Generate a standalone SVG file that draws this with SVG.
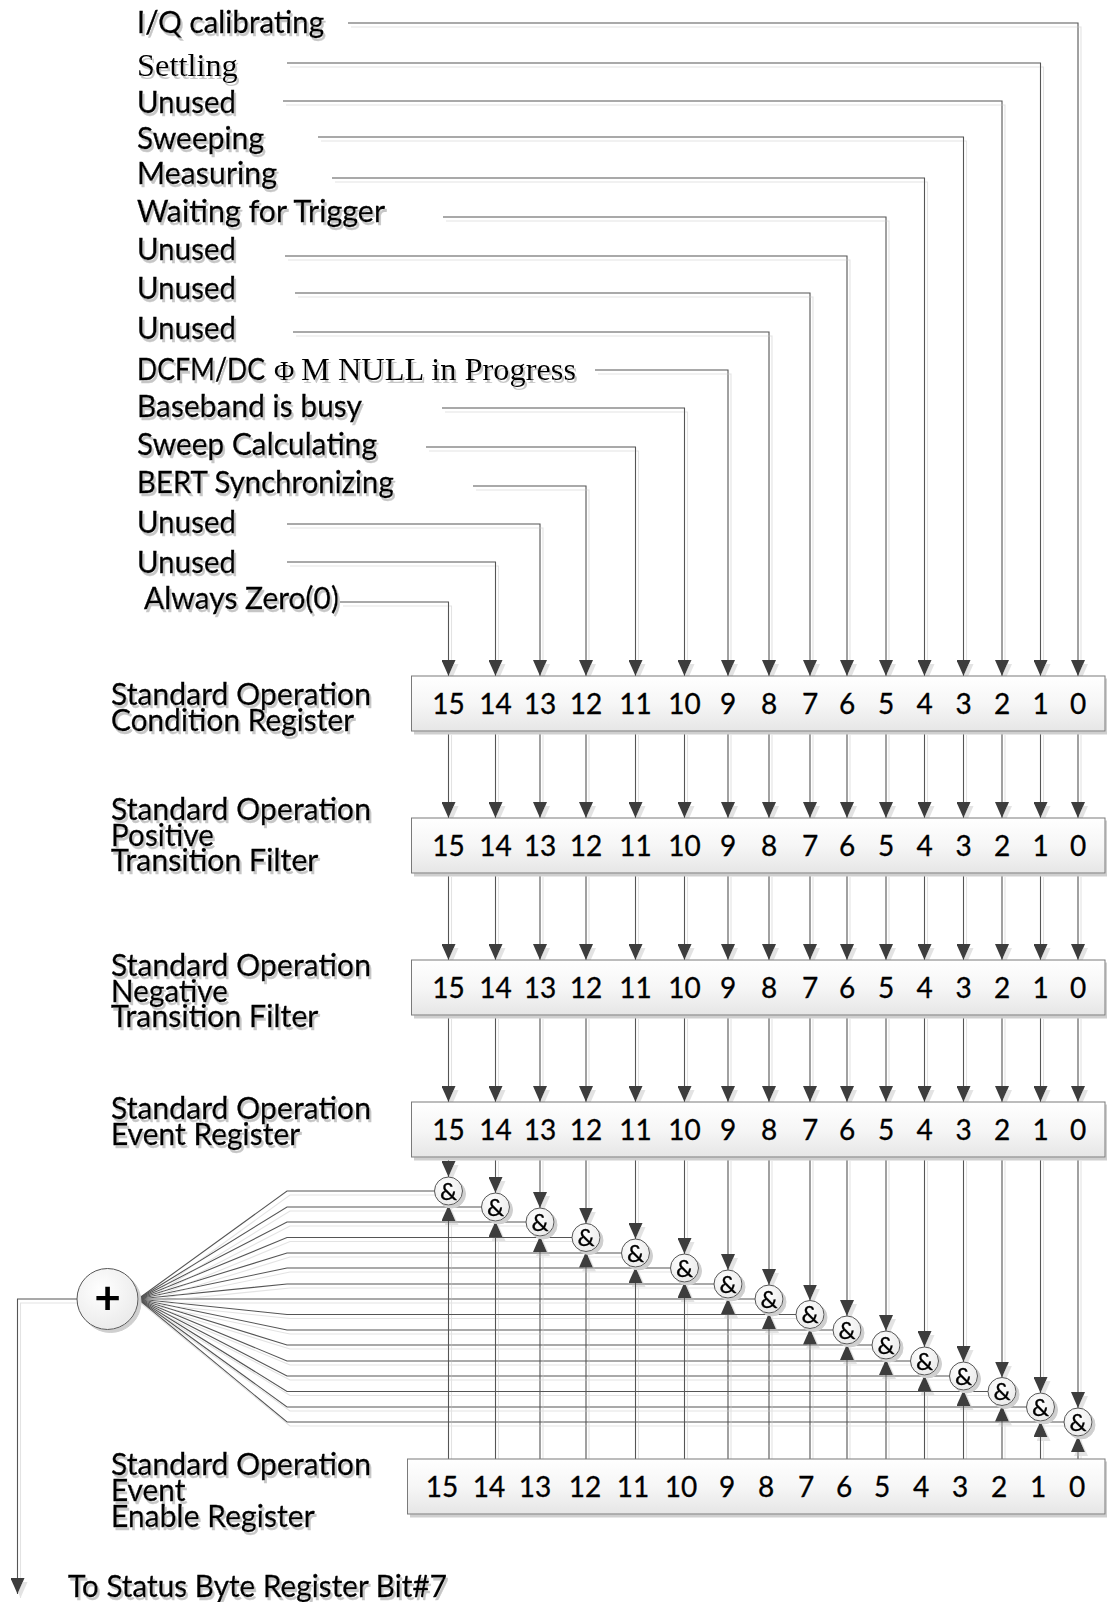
<svg xmlns="http://www.w3.org/2000/svg" width="1107" height="1602" viewBox="0 0 1107 1602">
  <defs>
    <style>
      .lb { font-family: Lato, "Liberation Sans", sans-serif; font-size: 30px; fill: #000; stroke: #000; stroke-width: 0.35px; }
      .sf { font-family: "Liberation Serif", serif; font-size: 32.4px; fill: #000; }
      .dg { font-family: Lato, "Liberation Sans", sans-serif; font-size: 28px; fill: #000; stroke: #000; stroke-width: 0.3px; text-anchor: middle; }
      .amp { font-family: Lato, "Liberation Sans", sans-serif; font-size: 24px; fill: #000; stroke: #000; stroke-width: 0.3px; text-anchor: middle; }
      .plus { font-family: Lato, "Liberation Sans", sans-serif; font-size: 46px; font-weight: 700; fill: #000; text-anchor: middle; }
      .c { fill: none; stroke: #555; stroke-width: 1.1; }
      .box { fill: url(#boxg); stroke: #7a7a7a; stroke-width: 1; }
      .gc { fill: url(#cg); stroke: #555; stroke-width: 1; }
      .txt { filter: url(#tsh); }
    </style>
    <linearGradient id="boxg" x1="0" y1="0" x2="0" y2="1">
      <stop offset="0" stop-color="#ffffff"/>
      <stop offset="0.5" stop-color="#f6f6f6"/>
      <stop offset="1" stop-color="#e6e6e6"/>
    </linearGradient>
    <radialGradient id="cg" cx="0.4" cy="0.35" r="0.75">
      <stop offset="0" stop-color="#ffffff"/>
      <stop offset="1" stop-color="#e8e8e8"/>
    </radialGradient>
    <marker id="ah" markerWidth="16" markerHeight="14" refX="16" refY="7" orient="auto" markerUnits="userSpaceOnUse">
      <path d="M0,0L16,7L0,14Z" fill="#3c3c3c"/>
    </marker>
    <!-- soft drop shadows -->
    <filter id="lsh" filterUnits="userSpaceOnUse" x="0" y="0" width="1107" height="1602">
      <feOffset in="SourceAlpha" dx="3" dy="4" result="o"/>
      <feFlood flood-color="#e3e3e3"/>
      <feComposite in2="o" operator="in" result="s"/>
      <feMerge><feMergeNode in="s"/><feMergeNode in="SourceGraphic"/></feMerge>
    </filter>
    <filter id="tsh" filterUnits="userSpaceOnUse" x="0" y="0" width="1107" height="1602">
      <feOffset in="SourceAlpha" dx="2" dy="3" result="o"/>
      <feFlood flood-color="#c6c6c6"/>
      <feComposite in2="o" operator="in" result="s"/>
      <feMerge><feMergeNode in="s"/><feMergeNode in="SourceGraphic"/></feMerge>
    </filter>
    <filter id="nsh" filterUnits="userSpaceOnUse" x="0" y="0" width="1107" height="1602">
      <feOffset in="SourceAlpha" dx="3" dy="3" result="o"/>
      <feFlood flood-color="#cfcfcf"/>
      <feComposite in2="o" operator="in" result="s"/>
      <feMerge><feMergeNode in="s"/><feMergeNode in="SourceGraphic"/></feMerge>
    </filter>
  </defs>

  <rect x="0" y="0" width="1107" height="1602" fill="#ffffff"/>

  <!-- connectors -->
  <g id="connectors" filter="url(#lsh)">
    <!-- status bits into the condition register -->
    <g class="c" marker-end="url(#ah)">
      <path d="M348,23H1078V676"/>
      <path d="M287,63H1040.5V676"/>
      <path d="M283,101H1002V676"/>
      <path d="M318,137H963.5V676"/>
      <path d="M332,178H924.5V676"/>
      <path d="M443,217H886V676"/>
      <path d="M285,256H847V676"/>
      <path d="M295,293H810V676"/>
      <path d="M293,332H769V676"/>
      <path d="M595,370H728V676"/>
      <path d="M442,408H684.5V676"/>
      <path d="M426,447H635.5V676"/>
      <path d="M473,486H586V676"/>
      <path d="M287,524H540V676"/>
      <path d="M287,562H495.5V676"/>
      <path d="M340,602H448.5V676"/>
    </g>
    <!-- condition -> positive transition -->
    <g class="c" marker-end="url(#ah)">
      <path d="M448.5,731V818"/><path d="M495.5,731V818"/><path d="M540,731V818"/><path d="M586,731V818"/>
      <path d="M635.5,731V818"/><path d="M684.5,731V818"/><path d="M728,731V818"/><path d="M769,731V818"/>
      <path d="M810,731V818"/><path d="M847,731V818"/><path d="M886,731V818"/><path d="M924.5,731V818"/>
      <path d="M963.5,731V818"/><path d="M1002,731V818"/><path d="M1040.5,731V818"/><path d="M1078,731V818"/>
    </g>
    <!-- positive -> negative transition -->
    <g class="c" marker-end="url(#ah)">
      <path d="M448.5,873V960"/><path d="M495.5,873V960"/><path d="M540,873V960"/><path d="M586,873V960"/>
      <path d="M635.5,873V960"/><path d="M684.5,873V960"/><path d="M728,873V960"/><path d="M769,873V960"/>
      <path d="M810,873V960"/><path d="M847,873V960"/><path d="M886,873V960"/><path d="M924.5,873V960"/>
      <path d="M963.5,873V960"/><path d="M1002,873V960"/><path d="M1040.5,873V960"/><path d="M1078,873V960"/>
    </g>
    <!-- negative -> event register -->
    <g class="c" marker-end="url(#ah)">
      <path d="M448.5,1015V1102"/><path d="M495.5,1015V1102"/><path d="M540,1015V1102"/><path d="M586,1015V1102"/>
      <path d="M635.5,1015V1102"/><path d="M684.5,1015V1102"/><path d="M728,1015V1102"/><path d="M769,1015V1102"/>
      <path d="M810,1015V1102"/><path d="M847,1015V1102"/><path d="M886,1015V1102"/><path d="M924.5,1015V1102"/>
      <path d="M963.5,1015V1102"/><path d="M1002,1015V1102"/><path d="M1040.5,1015V1102"/><path d="M1078,1015V1102"/>
    </g>
    <!-- event register -> AND gates -->
    <g class="c" marker-end="url(#ah)">
      <path d="M448.5,1157V1177"/><path d="M495.5,1157V1193"/><path d="M540,1157V1208"/><path d="M586,1157V1223.5"/>
      <path d="M635.5,1157V1239"/><path d="M684.5,1157V1254"/><path d="M728,1157V1270"/><path d="M769,1157V1285"/>
      <path d="M810,1157V1300.5"/><path d="M847,1157V1316"/><path d="M886,1157V1331"/><path d="M924.5,1157V1347"/>
      <path d="M963.5,1157V1362"/><path d="M1002,1157V1377.5"/><path d="M1040.5,1157V1393"/><path d="M1078,1157V1408"/>
    </g>
    <!-- enable register -> AND gates -->
    <g class="c" marker-end="url(#ah)">
      <path d="M448.5,1459V1205"/><path d="M495.5,1459V1221"/><path d="M540,1459V1236"/><path d="M586,1459V1251.5"/>
      <path d="M635.5,1459V1267"/><path d="M684.5,1459V1282"/><path d="M728,1459V1298"/><path d="M769,1459V1313"/>
      <path d="M810,1459V1328.5"/><path d="M847,1459V1344"/><path d="M886,1459V1359"/><path d="M924.5,1459V1375"/>
      <path d="M963.5,1459V1390"/><path d="M1002,1459V1405.5"/><path d="M1040.5,1459V1421"/><path d="M1078,1459V1436"/>
    </g>
    <!-- AND gates -> summing node -->
    <g class="c">
      <path d="M138,1299L287,1191H434.5"/>
      <path d="M138,1299L287,1207H481.5"/>
      <path d="M138,1299L287,1222H526"/>
      <path d="M138,1299L287,1237.5H572"/>
      <path d="M138,1299L287,1253H621.5"/>
      <path d="M138,1299L287,1268H670.5"/>
      <path d="M138,1299L287,1284H714"/>
      <path d="M138,1299L287,1299H755"/>
      <path d="M138,1299L287,1314.5H796"/>
      <path d="M138,1299L287,1330H833"/>
      <path d="M138,1299L287,1345H872"/>
      <path d="M138,1299L287,1361H910.5"/>
      <path d="M138,1299L287,1376H949.5"/>
      <path d="M138,1299L287,1391.5H988"/>
      <path d="M138,1299L287,1407H1026.5"/>
      <path d="M138,1299L287,1422H1064"/>
    </g>
    <!-- summary output -->
    <path class="c" d="M77,1299H17.5V1594" marker-end="url(#ah)"/>
  </g>

  <!-- status bit labels -->
  <g class="txt">
    <g id="label-bit0"><text class="lb" x="137" y="33" textLength="187" lengthAdjust="spacingAndGlyphs">I/Q calibrating</text></g>
    <g id="label-bit1"><text class="sf" x="137" y="76">Settling</text></g>
    <g id="label-bit2"><text class="lb" x="137" y="113" textLength="99" lengthAdjust="spacingAndGlyphs">Unused</text></g>
    <g id="label-bit3"><text class="lb" x="137" y="149" textLength="127" lengthAdjust="spacingAndGlyphs">Sweeping</text></g>
    <g id="label-bit4"><text class="lb" x="137" y="184" textLength="140" lengthAdjust="spacingAndGlyphs">Measuring</text></g>
    <g id="label-bit5"><text class="lb" x="137" y="222" textLength="248" lengthAdjust="spacingAndGlyphs">Waiting for Trigger</text></g>
    <g id="label-bit6"><text class="lb" x="137" y="260" textLength="99" lengthAdjust="spacingAndGlyphs">Unused</text></g>
    <g id="label-bit7"><text class="lb" x="137" y="299" textLength="99" lengthAdjust="spacingAndGlyphs">Unused</text></g>
    <g id="label-bit8"><text class="lb" x="137" y="339" textLength="99" lengthAdjust="spacingAndGlyphs">Unused</text></g>
    <g id="label-bit9">
      <text class="lb" x="137" y="380" textLength="128" lengthAdjust="spacingAndGlyphs">DCFM/DC</text>
      <text class="sf" x="274" y="380" style="font-size:28px">Φ</text>
      <text class="sf" x="301" y="380">M NULL in Progress</text>
    </g>
    <g id="label-bit10"><text class="lb" x="137" y="417" textLength="225" lengthAdjust="spacingAndGlyphs">Baseband is busy</text></g>
    <g id="label-bit11"><text class="lb" x="137" y="455" textLength="240" lengthAdjust="spacingAndGlyphs">Sweep Calculating</text></g>
    <g id="label-bit12"><text class="lb" x="137" y="493" textLength="256.7" lengthAdjust="spacingAndGlyphs">BERT Synchronizing</text></g>
    <g id="label-bit13"><text class="lb" x="137" y="533" textLength="99" lengthAdjust="spacingAndGlyphs">Unused</text></g>
    <g id="label-bit14"><text class="lb" x="137" y="573" textLength="99" lengthAdjust="spacingAndGlyphs">Unused</text></g>
    <g id="label-bit15"><text class="lb" x="144" y="609" textLength="195" lengthAdjust="spacingAndGlyphs">Always Zero(0)</text></g>
  </g>

  <!-- register titles -->
  <g class="txt">
    <g id="title-condition">
      <text class="lb" x="111" y="705" textLength="260" lengthAdjust="spacingAndGlyphs">Standard Operation</text>
      <text class="lb" x="111" y="731" textLength="243" lengthAdjust="spacingAndGlyphs">Condition Register</text>
    </g>
    <g id="title-ptr">
      <text class="lb" x="111" y="820" textLength="260" lengthAdjust="spacingAndGlyphs">Standard Operation</text>
      <text class="lb" x="111" y="845.5" textLength="103" lengthAdjust="spacingAndGlyphs">Positive</text>
      <text class="lb" x="111" y="871" textLength="207.4" lengthAdjust="spacingAndGlyphs">Transition Filter</text>
    </g>
    <g id="title-ntr">
      <text class="lb" x="111" y="976" textLength="260" lengthAdjust="spacingAndGlyphs">Standard Operation</text>
      <text class="lb" x="111" y="1001.5" textLength="117" lengthAdjust="spacingAndGlyphs">Negative</text>
      <text class="lb" x="111" y="1027" textLength="207.4" lengthAdjust="spacingAndGlyphs">Transition Filter</text>
    </g>
    <g id="title-event">
      <text class="lb" x="111" y="1119" textLength="260" lengthAdjust="spacingAndGlyphs">Standard Operation</text>
      <text class="lb" x="111" y="1145" textLength="189.2" lengthAdjust="spacingAndGlyphs">Event Register</text>
    </g>
    <g id="title-enable">
      <text class="lb" x="111" y="1475" textLength="260" lengthAdjust="spacingAndGlyphs">Standard Operation</text>
      <text class="lb" x="111" y="1501" textLength="74.5" lengthAdjust="spacingAndGlyphs">Event</text>
      <text class="lb" x="111" y="1527" textLength="203.6" lengthAdjust="spacingAndGlyphs">Enable Register</text>
    </g>
    <g id="title-output">
      <text class="lb" x="68" y="1597" textLength="379" lengthAdjust="spacingAndGlyphs">To Status Byte Register Bit#7</text>
    </g>
  </g>

  <!-- registers -->
  <g id="reg-condition">
    <rect class="box" x="411.5" y="676" width="693.5" height="55" filter="url(#nsh)"/>
    <g class="dg">
      <text x="448.5" y="714">15</text><text x="495.5" y="714">14</text><text x="540" y="714">13</text><text x="586" y="714">12</text>
      <text x="635.5" y="714">11</text><text x="684.5" y="714">10</text><text x="728" y="714">9</text><text x="769" y="714">8</text>
      <text x="810" y="714">7</text><text x="847" y="714">6</text><text x="886" y="714">5</text><text x="924.5" y="714">4</text>
      <text x="963.5" y="714">3</text><text x="1002" y="714">2</text><text x="1040.5" y="714">1</text><text x="1078" y="714">0</text>
    </g>
  </g>
  <g id="reg-ptr">
    <rect class="box" x="411.5" y="818" width="693.5" height="55" filter="url(#nsh)"/>
    <g class="dg">
      <text x="448.5" y="856">15</text><text x="495.5" y="856">14</text><text x="540" y="856">13</text><text x="586" y="856">12</text>
      <text x="635.5" y="856">11</text><text x="684.5" y="856">10</text><text x="728" y="856">9</text><text x="769" y="856">8</text>
      <text x="810" y="856">7</text><text x="847" y="856">6</text><text x="886" y="856">5</text><text x="924.5" y="856">4</text>
      <text x="963.5" y="856">3</text><text x="1002" y="856">2</text><text x="1040.5" y="856">1</text><text x="1078" y="856">0</text>
    </g>
  </g>
  <g id="reg-ntr">
    <rect class="box" x="411.5" y="960" width="693.5" height="55" filter="url(#nsh)"/>
    <g class="dg">
      <text x="448.5" y="998">15</text><text x="495.5" y="998">14</text><text x="540" y="998">13</text><text x="586" y="998">12</text>
      <text x="635.5" y="998">11</text><text x="684.5" y="998">10</text><text x="728" y="998">9</text><text x="769" y="998">8</text>
      <text x="810" y="998">7</text><text x="847" y="998">6</text><text x="886" y="998">5</text><text x="924.5" y="998">4</text>
      <text x="963.5" y="998">3</text><text x="1002" y="998">2</text><text x="1040.5" y="998">1</text><text x="1078" y="998">0</text>
    </g>
  </g>
  <g id="reg-event">
    <rect class="box" x="411.5" y="1102" width="693.5" height="55" filter="url(#nsh)"/>
    <g class="dg">
      <text x="448.5" y="1140">15</text><text x="495.5" y="1140">14</text><text x="540" y="1140">13</text><text x="586" y="1140">12</text>
      <text x="635.5" y="1140">11</text><text x="684.5" y="1140">10</text><text x="728" y="1140">9</text><text x="769" y="1140">8</text>
      <text x="810" y="1140">7</text><text x="847" y="1140">6</text><text x="886" y="1140">5</text><text x="924.5" y="1140">4</text>
      <text x="963.5" y="1140">3</text><text x="1002" y="1140">2</text><text x="1040.5" y="1140">1</text><text x="1078" y="1140">0</text>
    </g>
  </g>
  <g id="reg-enable">
    <rect class="box" x="407.5" y="1459" width="697.5" height="55" filter="url(#nsh)"/>
    <g class="dg">
      <text x="442" y="1497">15</text><text x="489" y="1497">14</text><text x="535" y="1497">13</text><text x="585" y="1497">12</text>
      <text x="633" y="1497">11</text><text x="681" y="1497">10</text><text x="727" y="1497">9</text><text x="766" y="1497">8</text>
      <text x="806" y="1497">7</text><text x="844" y="1497">6</text><text x="882" y="1497">5</text><text x="921" y="1497">4</text>
      <text x="960" y="1497">3</text><text x="999" y="1497">2</text><text x="1038" y="1497">1</text><text x="1077" y="1497">0</text>
    </g>
  </g>

  <!-- AND gates -->
  <g filter="url(#nsh)">
    <g id="and-15"><circle class="gc" cx="448.5" cy="1191" r="14"/><text class="amp" x="448.5" y="1199.5">&amp;</text></g>
    <g id="and-14"><circle class="gc" cx="495.5" cy="1207" r="14"/><text class="amp" x="495.5" y="1215.5">&amp;</text></g>
    <g id="and-13"><circle class="gc" cx="540" cy="1222" r="14"/><text class="amp" x="540" y="1230.5">&amp;</text></g>
    <g id="and-12"><circle class="gc" cx="586" cy="1237.5" r="14"/><text class="amp" x="586" y="1246">&amp;</text></g>
    <g id="and-11"><circle class="gc" cx="635.5" cy="1253" r="14"/><text class="amp" x="635.5" y="1261.5">&amp;</text></g>
    <g id="and-10"><circle class="gc" cx="684.5" cy="1268" r="14"/><text class="amp" x="684.5" y="1276.5">&amp;</text></g>
    <g id="and-9"><circle class="gc" cx="728" cy="1284" r="14"/><text class="amp" x="728" y="1292.5">&amp;</text></g>
    <g id="and-8"><circle class="gc" cx="769" cy="1299" r="14"/><text class="amp" x="769" y="1307.5">&amp;</text></g>
    <g id="and-7"><circle class="gc" cx="810" cy="1314.5" r="14"/><text class="amp" x="810" y="1323">&amp;</text></g>
    <g id="and-6"><circle class="gc" cx="847" cy="1330" r="14"/><text class="amp" x="847" y="1338.5">&amp;</text></g>
    <g id="and-5"><circle class="gc" cx="886" cy="1345" r="14"/><text class="amp" x="886" y="1353.5">&amp;</text></g>
    <g id="and-4"><circle class="gc" cx="924.5" cy="1361" r="14"/><text class="amp" x="924.5" y="1369.5">&amp;</text></g>
    <g id="and-3"><circle class="gc" cx="963.5" cy="1376" r="14"/><text class="amp" x="963.5" y="1384.5">&amp;</text></g>
    <g id="and-2"><circle class="gc" cx="1002" cy="1391.5" r="14"/><text class="amp" x="1002" y="1400">&amp;</text></g>
    <g id="and-1"><circle class="gc" cx="1040.5" cy="1407" r="14"/><text class="amp" x="1040.5" y="1415.5">&amp;</text></g>
    <g id="and-0"><circle class="gc" cx="1078" cy="1422" r="14"/><text class="amp" x="1078" y="1430.5">&amp;</text></g>
  </g>

  <!-- summing node -->
  <g id="or-sum" filter="url(#nsh)">
    <circle class="gc" cx="107.5" cy="1299" r="30.5"/>
    <text class="plus" x="107.5" y="1314">+</text>
  </g>
</svg>
